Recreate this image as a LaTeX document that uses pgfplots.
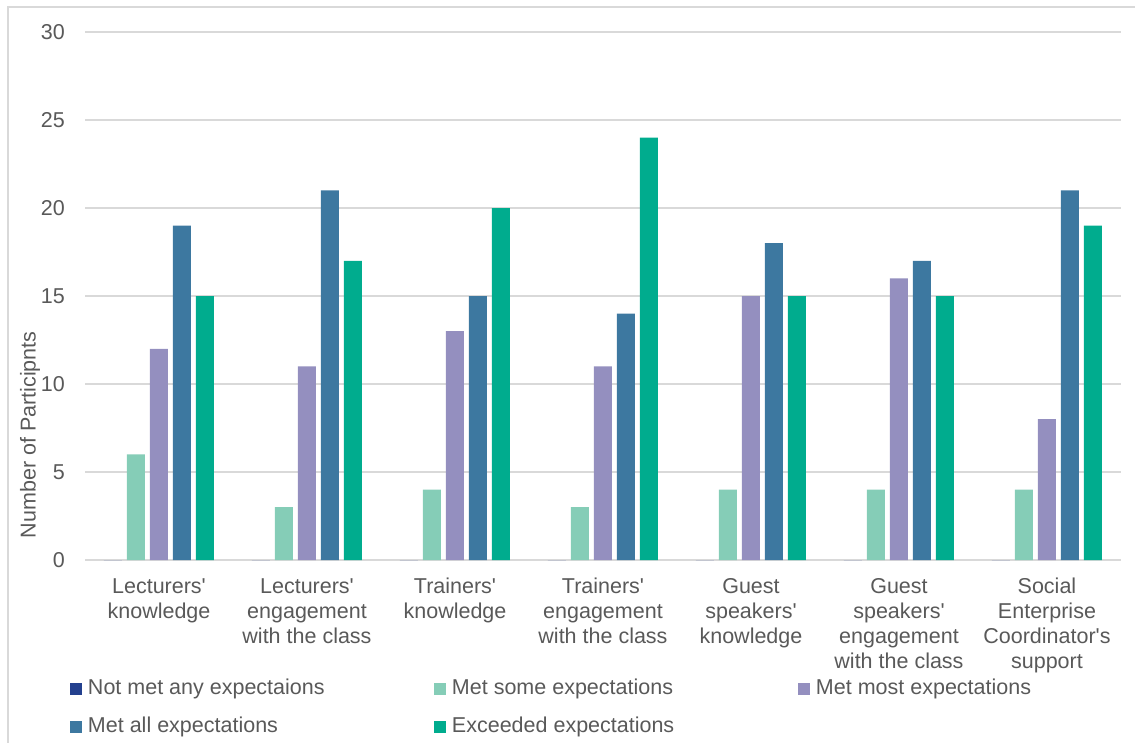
\documentclass[border=0pt]{standalone}
\usepackage{fontspec}
\setmainfont{Liberation Sans}
\usepackage{pgfplots}
\usepackage{pgfplotstable}
\pgfplotsset{compat=1.18}
\definecolor{c1}{HTML}{23408E}
\definecolor{c2}{HTML}{85CDB7}
\definecolor{c3}{HTML}{948FBF}
\definecolor{c4}{HTML}{3D78A0}
\definecolor{c5}{HTML}{00AC8E}
\definecolor{txt}{HTML}{595959}
\definecolor{grd}{HTML}{D9D9D9}
\pgfplotstableread{
x n s m a e
0 0 6 12 19 15
1 0 3 11 21 17
2 0 4 13 15 20
3 0 3 11 14 24
4 0 4 15 18 15
5 0 4 16 17 15
6 0 4 8 21 19
}\datatable
\newcommand{\lf}{\fontsize{21.5}{25}\selectfont}
\newcommand{\q}{\textquotesingle}
\begin{document}
\begin{tikzpicture}
\begin{axis}[
  at={(85pt,-560pt)}, anchor=south west,
  scale only axis, width=1036pt, height=528pt,
  ybar=5pt, bar width=18pt,
  xmin=-0.5, xmax=6.5, ymin=0, ymax=30,
  ytick={0,5,...,30},
  xtick={0,...,6},
  xticklabels={{Lecturers\q\\knowledge},{Lecturers\q\\engagement\\with the class},{Trainers\q\\knowledge},{Trainers\q\\engagement\\with the class},{Guest\\speakers\q\\knowledge},{Guest\\speakers\q\\engagement\\with the class},{Social\\Enterprise\\Coordinator\q s\\support}},
  /pgf/number format/assume math mode=true,
  x tick label style={align=center, font=\lf, text=txt, inner sep=0pt, anchor=north, yshift=-18pt},
  y tick label style={font=\lf, text=txt, inner sep=0pt, anchor=east, xshift=-20pt},
  major tick length=0pt,
  axis line style={draw=none},
  ymajorgrids, grid style={grd, line width=1.5pt},
  ylabel={Number of Participnts},
  ylabel style={at={(axis description cs:-0.053,0.237)}, anchor=center, font=\lf, text=txt},
  legend columns=3,
  legend image code/.code={\fill[#1] (0pt,-6pt) rectangle (12pt,6pt);},
  legend style={at={(axis description cs:-0.0145,-0.2254)}, anchor=north west, draw=none, fill=none, inner sep=0pt, outer sep=0pt,
    font=\lf, text=txt, column sep=6pt, row sep=18pt,
    nodes={inner sep=0pt, text height=15pt, text depth=5pt}},
]
\addplot[fill=c1, draw=none] table[x=x, y=n] {\datatable};
\addlegendentry{\makebox[340pt][l]{Not met any expectaions}}
\addplot[fill=c2, draw=none] table[x=x, y=s] {\datatable};
\addlegendentry{\makebox[340pt][l]{Met some expectations}}
\addplot[fill=c3, draw=none] table[x=x, y=m] {\datatable};
\addlegendentry{\makebox[340pt][l]{Met most expectations}}
\addplot[fill=c4, draw=none] table[x=x, y=a] {\datatable};
\addlegendentry{\makebox[340pt][l]{Met all expectations}}
\addplot[fill=c5, draw=none] table[x=x, y=e] {\datatable};
\addlegendentry{\makebox[340pt][l]{Exceeded expectations}}
\end{axis}
\draw[grd, line width=1.5pt] (8pt,-1000pt) -- (8pt,-7pt) -- (2000pt,-7pt);
\pgfresetboundingbox
\path[use as bounding box] (0,0) rectangle (1135pt,-742pt);
\end{tikzpicture}
\end{document}
